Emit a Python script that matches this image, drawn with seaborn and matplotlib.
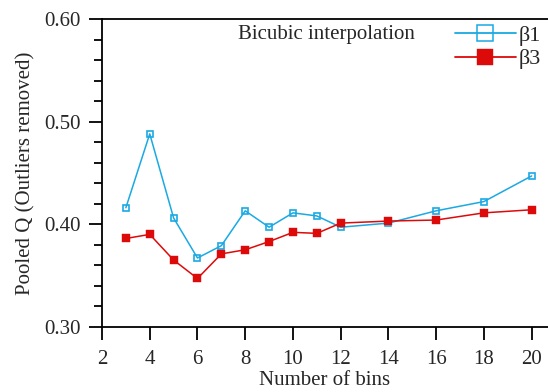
import matplotlib
matplotlib.use("Agg")
import matplotlib.pyplot as plt
import seaborn as sns
import pandas as pd
from matplotlib.ticker import MultipleLocator

bins_b1 = [3, 4, 5, 6, 7, 8, 9, 10, 11, 12, 14, 16, 18, 20]
beta1 = [0.416, 0.488, 0.406, 0.367, 0.379, 0.413, 0.397, 0.411, 0.408, 0.397, 0.401, 0.413, 0.422, 0.447]
bins_b3 = [3, 4, 5, 6, 7, 8, 9, 10, 11, 12, 14, 16, 18, 20]
beta3 = [0.386, 0.390, 0.365, 0.347, 0.371, 0.375, 0.383, 0.392, 0.391, 0.401, 0.403, 0.404, 0.411, 0.414]
x_ticks = [2, 4, 6, 8, 10, 12, 14, 16, 18, 20]
y_ticks = [0.30, 0.40, 0.50, 0.60]

sns.set_style("ticks")
plt.rcParams['font.family'] = ['Liberation Serif', 'DejaVu Serif']

W, H = 548, 392
fig = plt.figure(figsize=(W/100, H/100), dpi=100)
ax = fig.add_axes([102/W, 1 - 326.7/H, 446/W, (326.7 - 19)/H])

blue = '#1aa9e3'
red = '#dd0a0a'

d1 = pd.DataFrame({'bins': bins_b1, 'Q': beta1})
d3 = pd.DataFrame({'bins': bins_b3, 'Q': beta3})

sns.lineplot(data=d1, x='bins', y='Q', ax=ax, color=blue, lw=1.1, marker='s',
             markersize=4.4, markerfacecolor='none', markeredgecolor=blue,
             markeredgewidth=1.2, label='β1')
sns.lineplot(data=d3, x='bins', y='Q', ax=ax, color=red, lw=1.1, marker='s',
             markersize=6.0, markerfacecolor=red, markeredgecolor=red,
             markeredgewidth=0.3, label='β3')

ax.set_xlim(2, 2 + 446/23.87)
ax.set_ylim(0.30, 0.60)
ax.set_xticks(x_ticks)
ax.set_xticklabels([str(t) for t in x_ticks])
ax.set_yticks(y_ticks)
ax.set_yticklabels([f"{t:.2f}" for t in y_ticks])
ax.yaxis.set_minor_locator(MultipleLocator(0.02))

for s in ['left', 'bottom', 'top']:
    ax.spines[s].set_visible(True)
    ax.spines[s].set_color('black')
    ax.spines[s].set_linewidth(1.3)
ax.spines['right'].set_visible(False)

ax.tick_params(axis='both', which='major', direction='out', length=9.5, width=1.3,
               labelsize=15, color='black')
ax.tick_params(axis='y', which='major', pad=6)
ax.tick_params(axis='x', which='major', pad=7)
ax.tick_params(axis='y', which='minor', direction='out', length=5.5, width=1.3, color='black')
ax.tick_params(axis='x', which='minor', length=0)

ax.set_xlabel('Number of bins', fontsize=15, labelpad=2)
ax.set_ylabel('Pooled Q (Outliers removed)', fontsize=15, labelpad=6)

fig.text(326/W, 1 - 35/H, 'Bicubic interpolation', ha='center', va='center', fontsize=15)

leg = ax.legend(loc='upper right', bbox_to_anchor=(1.0, 1.0), frameon=False,
                fontsize=16, handlelength=2.75, handletextpad=0.15,
                labelspacing=0.12, borderaxespad=0.0, borderpad=0.3)
for h in leg.legend_handles:
    h.set_markersize(11.3)
    h.set_linewidth(1.3)
leg.legend_handles[0].set_markeredgewidth(1.1)

fig.savefig('out.png', dpi=100)
